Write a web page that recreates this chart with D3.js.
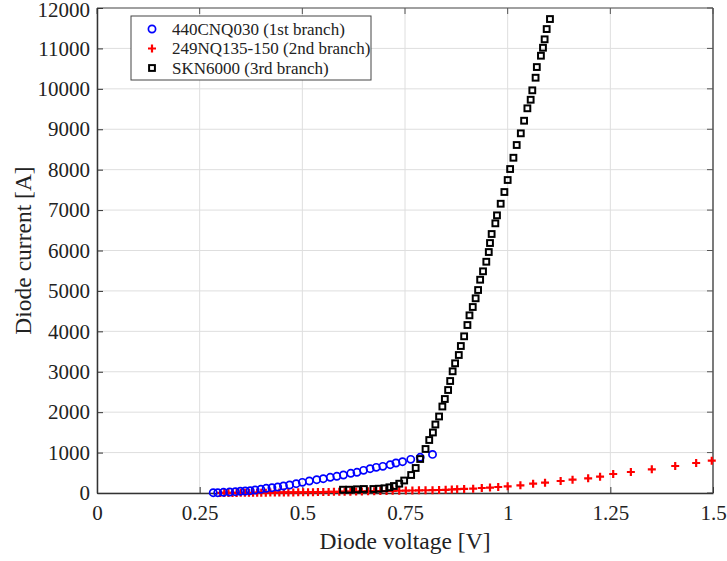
<!DOCTYPE html>
<html>
<head>
<meta charset="utf-8">
<script src="https://cdn.jsdelivr.net/npm/d3@7"></script>
<style>
  body { margin: 0; background: #fff; }
  svg { font-family: "Liberation Serif", "Times New Roman", serif; }
</style>
</head>
<body>
<svg id="chart" width="727" height="561"></svg>
<script>
// series names
const seriesNames = ["440CNQ030 (1st branch)", "249NQ135-150 (2nd branch)", "SKN6000 (3rd branch)"];

// 1st branch (blue circles)
const blueV = [0.283, 0.294, 0.308, 0.323, 0.337, 0.349, 0.361, 0.373, 0.385, 0.399, 0.412, 0.426, 0.440, 0.454,
  0.469, 0.485, 0.500, 0.517, 0.535, 0.551, 0.568, 0.584, 0.600, 0.618, 0.633, 0.649, 0.665, 0.680, 0.696, 0.714,
  0.728, 0.744, 0.764, 0.787, 0.817];
const blueI = [7, 7, 17, 25, 32, 42, 49, 57, 74, 91, 116, 131, 148, 173,
  198, 230, 264, 297, 329, 354, 388, 413, 445, 487, 512, 561, 601, 635, 660, 700,
  742, 774, 833, 883, 955];

// 2nd branch (red crosses)
const redV = [0.300, 0.310, 0.320, 0.330, 0.340, 0.350, 0.360, 0.370, 0.380, 0.390, 0.400, 0.411, 0.422, 0.433,
  0.444, 0.455, 0.466, 0.478, 0.490, 0.502, 0.514, 0.526, 0.538, 0.551, 0.564, 0.577, 0.590, 0.603, 0.617, 0.631,
  0.645, 0.660, 0.675, 0.690, 0.705, 0.720, 0.736, 0.752, 0.768, 0.784, 0.800, 0.817, 0.833, 0.849, 0.864, 0.877,
  0.894, 0.916, 0.937, 0.957, 0.977, 1.000, 1.031, 1.062, 1.091, 1.129, 1.158, 1.196, 1.225, 1.257, 1.300, 1.351,
  1.408, 1.459, 1.497];
const redI = [1, 2, 2, 3, 3, 4, 5, 5, 6, 7, 8, 9, 10, 11,
  12, 13, 14, 15, 16, 18, 19, 21, 22, 24, 26, 28, 30, 32, 34, 36,
  38, 41, 44, 47, 50, 53, 56, 59, 62, 65, 68, 71, 74, 78, 86, 94,
  100, 108, 124, 133, 148, 166, 190, 230, 255, 297, 329, 363, 404, 470, 519, 586,
  668, 742, 799];

// 3rd branch (black squares)
const blackV = [0.599, 0.614, 0.633, 0.650, 0.673, 0.686, 0.700, 0.712, 0.723, 0.736, 0.748, 0.765, 0.776, 0.787,
  0.800, 0.809, 0.818, 0.824, 0.833, 0.841, 0.847, 0.855, 0.860, 0.866, 0.872, 0.881, 0.886, 0.894, 0.902, 0.907,
  0.915, 0.922, 0.928, 0.933, 0.940, 0.948, 0.954, 0.957, 0.961, 0.970, 0.974, 0.983, 0.992, 1.000, 1.006, 1.014,
  1.022, 1.032, 1.040, 1.048, 1.056, 1.060, 1.068, 1.071, 1.081, 1.086, 1.090, 1.095, 1.103];
const blackI = [82, 82, 92, 99, 99, 106, 116, 141, 173, 230, 309, 445, 619, 841,
  1089, 1311, 1497, 1695, 1893, 2140, 2326, 2548, 2771, 3011, 3209, 3414, 3637, 3877, 4156, 4396,
  4602, 4817, 5022, 5277, 5485, 5722, 5962, 6185, 6408, 6672, 6870, 7157, 7447, 7744, 8016, 8295,
  8610, 8899, 9211, 9518, 9730, 9963, 10275, 10539, 10819, 11017, 11225, 11479, 11727];

const xTicks = [0, 0.25, 0.5, 0.75, 1, 1.25, 1.5];
const yTicks = [0, 1000, 2000, 3000, 4000, 5000, 6000, 7000, 8000, 9000, 10000, 11000, 12000];

const margin = { top: 8, right: 14, bottom: 68, left: 97 };
const width = 727 - margin.left - margin.right;
const height = 561 - margin.top - margin.bottom;

const svg = d3.select("#chart");
const g = svg.append("g").attr("transform", `translate(${margin.left},${margin.top})`);

const x = d3.scaleLinear().domain([0, 1.5]).range([0, width]);
const y = d3.scaleLinear().domain([0, 12000]).range([height, 0]);

// grid
g.append("g").selectAll("line").data(xTicks).join("line")
  .attr("x1", d => x(d)).attr("x2", d => x(d)).attr("y1", 0).attr("y2", height)
  .attr("stroke", "#dedede").attr("stroke-width", 1);
g.append("g").selectAll("line").data(yTicks).join("line")
  .attr("x1", 0).attr("x2", width).attr("y1", d => y(d)).attr("y2", d => y(d))
  .attr("stroke", "#dedede").attr("stroke-width", 1);

// frame: top and right
g.append("line").attr("x1", 0).attr("x2", width).attr("y1", 0).attr("y2", 0)
  .attr("stroke", "#a0a0a0").attr("stroke-width", 2);
g.append("line").attr("x1", width).attr("x2", width).attr("y1", 0).attr("y2", height)
  .attr("stroke", "#555").attr("stroke-width", 1.5);

// inward ticks on top / right
g.append("g").selectAll("line").data(xTicks).join("line")
  .attr("x1", d => x(d)).attr("x2", d => x(d)).attr("y1", 0).attr("y2", 6)
  .attr("stroke", "#555");
g.append("g").selectAll("line").data(yTicks).join("line")
  .attr("x1", width - 6).attr("x2", width).attr("y1", d => y(d)).attr("y2", d => y(d))
  .attr("stroke", "#555");

const xAxis = g.append("g").attr("transform", `translate(0,${height})`)
  .call(d3.axisBottom(x).tickValues(xTicks).tickSizeInner(-6).tickSizeOuter(0).tickPadding(12)
    .tickFormat(d => String(d)));
const yAxis = g.append("g")
  .call(d3.axisLeft(y).tickValues(yTicks).tickSizeInner(-6).tickSizeOuter(0).tickPadding(7)
    .tickFormat(d3.format("d")));

[xAxis, yAxis].forEach(a => {
  a.select(".domain").attr("stroke", "#333").attr("stroke-width", 1.5);
  a.selectAll(".tick line").attr("stroke", "#333");
  a.selectAll(".tick text").attr("fill", "#222").style("font-size", "21px")
    .style("font-family", "'Liberation Serif', serif");
});
yAxis.selectAll(".tick text").filter(d => d === 12000).attr("dy", "0.42em");

// axis titles
svg.append("text").attr("x", margin.left + width / 2).attr("y", 549)
  .attr("text-anchor", "middle").attr("fill", "#222").style("font-size", "23.5px")
  .text("Diode voltage [V]");
svg.append("text").attr("transform", `translate(31,${margin.top + height / 2}) rotate(-90)`)
  .attr("text-anchor", "middle").attr("fill", "#222").style("font-size", "23.5px")
  .text("Diode current [A]");

// markers
const plot = g.append("g");
const blue = blueV.map((v, i) => ({ v, c: blueI[i] }));
const red = redV.map((v, i) => ({ v, c: redI[i] }));
const black = blackV.map((v, i) => ({ v, c: blackI[i] }));

plot.selectAll(".red").data(red).join("path").attr("class", "red")
  .attr("d", d => `M${x(d.v) - 4},${y(d.c)}h8M${x(d.v)},${y(d.c) - 4}v8`)
  .attr("stroke", "#ff0000").attr("stroke-width", 2.2).attr("fill", "none");

plot.selectAll(".blue").data(blue).join("circle").attr("class", "blue")
  .attr("cx", d => x(d.v)).attr("cy", d => y(d.c)).attr("r", 3.6)
  .attr("fill", "none").attr("stroke", "#0000ff").attr("stroke-width", 1.7);

plot.selectAll(".black").data(black).join("rect").attr("class", "black")
  .attr("x", d => x(d.v) - 2.9).attr("y", d => y(d.c) - 2.9)
  .attr("width", 5.8).attr("height", 5.8)
  .attr("fill", "none").attr("stroke", "#000").attr("stroke-width", 2);

// legend
const legend = svg.append("g").attr("transform", "translate(131,16)");
legend.append("rect").attr("width", 240).attr("height", 64)
  .attr("fill", "#fff").attr("stroke", "#444").attr("stroke-width", 1);
const items = legend.selectAll(".legend-item").data(seriesNames).join("g")
  .attr("class", "legend-item")
  .attr("transform", (d, i) => `translate(0,${13 + i * 19.5})`);
items.append("text").attr("x", 41).attr("y", 0).attr("dy", "0.35em")
  .attr("fill", "#222").style("font-size", "17px").text(d => d);
items.filter((d, i) => i === 0).append("circle")
  .attr("cx", 21).attr("cy", 0).attr("r", 3.6)
  .attr("fill", "none").attr("stroke", "#0000ff").attr("stroke-width", 1.7);
items.filter((d, i) => i === 1).append("path")
  .attr("d", "M17,0h8M21,-4v8")
  .attr("stroke", "#ff0000").attr("stroke-width", 2.2);
items.filter((d, i) => i === 2).append("rect")
  .attr("x", 18.1).attr("y", -2.9).attr("width", 5.8).attr("height", 5.8)
  .attr("fill", "none").attr("stroke", "#000").attr("stroke-width", 2);
</script>
</body>
</html>
